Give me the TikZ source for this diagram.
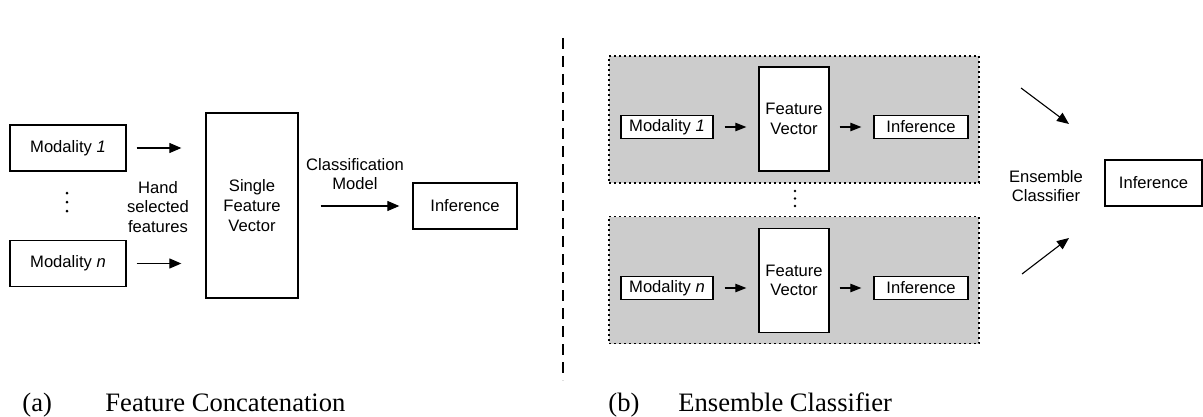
\documentclass[tikz,border=0pt]{standalone}
\usepackage{fontspec}
\setmainfont{Liberation Serif}
\setsansfont{Liberation Sans}
\usepackage{tikz}
\usetikzlibrary{arrows.meta,calc,positioning}
\tikzstyle{block}=[draw, line width=0.65pt, inner sep=0pt, align=center, font=\sffamily\fontsize{8.3}{9.8}\selectfont]
\tikzstyle{arr}=[-{Triangle[length=6pt,width=5pt]}, line width=0.55pt]

\begin{document}
\begin{tikzpicture}[x=0.5pt,y=-0.5pt,
txt/.style={align=center,inner sep=0pt,font=\sffamily\fontsize{8.3}{9.8}\selectfont},
sarr/.style={-{Triangle[length=5.5pt,width=4.2pt]}, line width=0.55pt},
panel/.style={draw,fill=black!20,dash pattern=on 0.8pt off 1.7pt,line width=0.8pt,
minimum width=185pt,minimum height=63.5pt,inner sep=0pt},
captxt/.style={anchor=base west,inner sep=0pt,font=\fontsize{13.3}{16}\selectfont}]
\useasboundingbox (0,0) rectangle (1203,417);

% (a) feature concatenation
\node (m1) at (68,148)[block,minimum width=58pt,minimum height=23pt] {Modality \textit{1}};
\node (mn) at (68,263.5)[block,minimum width=58pt,minimum height=23pt] {Modality \textit{n}};
\foreach \y in {193,202,211}
  \fill (67,\y) circle (1.5);
\node (sfv) at (252,205.5)[block,minimum width=46pt,minimum height=92.5pt] {Single\\Feature\\Vector};
\node (hsf) at (158,207)[txt] {Hand\\selected\\features};
\node (inf) at (465,206)[block,minimum width=52pt,minimum height=23pt] {Inference};
\node (cm) at (355,174)[txt] {Classification\\Model};
\draw[arr,shorten <=5pt,shorten >=12pt] (m1.east) -- (m1.east -| sfv.west);
\draw[arr,shorten <=5pt,shorten >=12pt] (mn.east) -- (mn.east -| sfv.west);
\draw[arr,shorten <=11pt,shorten >=6.5pt] (sfv.east |- inf.west) -- (inf.west);

\coordinate (d1) at (563,38);
\coordinate (d2) at (563,380);
\draw[dash pattern=on 5.5pt off 3.5pt,line width=0.6pt] (d1) -- (d2);

% (b) ensemble classifier
\node (p1) at (794,119.5)[panel] {};
\node (pn) at (794,280)[panel] {};
\node (r1) at (667,127)[block,fill=white,minimum width=46pt,minimum height=11.5pt] {Modality \textit{1}};
\node (fv1) at (794,119)[block,fill=white,minimum width=35pt,minimum height=52pt] {Feature\\Vector};
\node (inf1) at (921,127)[block,fill=white,minimum width=47pt,minimum height=11.5pt] {Inference};
\node (rn) at (667,288)[block,fill=white,minimum width=46pt,minimum height=11.5pt] {Modality \textit{n}};
\node (fvn) at (794,280.5)[block,fill=white,minimum width=35pt,minimum height=52pt] {Feature\\Vector};
\node (infn) at (921,288)[block,fill=white,minimum width=47pt,minimum height=11.5pt] {Inference};
\draw[sarr,shorten <=5.5pt,shorten >=6pt] (r1.east) -- (r1.east -| fv1.west);
\draw[sarr,shorten <=5pt,shorten >=6pt] (fv1.east |- inf1.west) -- (inf1.west);
\draw[sarr,shorten <=5.5pt,shorten >=6pt] (rn.east) -- (rn.east -| fvn.west);
\draw[sarr,shorten <=5pt,shorten >=6pt] (fvn.east |- infn.west) -- (infn.west);
\foreach \y in {191,198.5,206}
  \fill (795,\y) circle (1.3);

\node (ens) at (1046,186)[txt] {Ensemble\\Classifier};
\node (einf) at (1153.5,183)[block,minimum width=48.5pt,minimum height=23pt] {Inference};
\coordinate (e1) at (1021,88);
\coordinate (e2) at (1069,124);
\coordinate (e3) at (1022,274);
\coordinate (e4) at (1069,238);
\draw[arr] (e1) -- (e2);
\draw[arr] (e3) -- (e4);

% captions
\node (ca) at (22,411)[captxt] {(a)};
\node (cat) at (105,411)[captxt] {Feature Concatenation};
\node (cb) at (608,411)[captxt] {(b)};
\node (cbt) at (678,411)[captxt] {Ensemble Classifier};
\end{tikzpicture}
\end{document}
